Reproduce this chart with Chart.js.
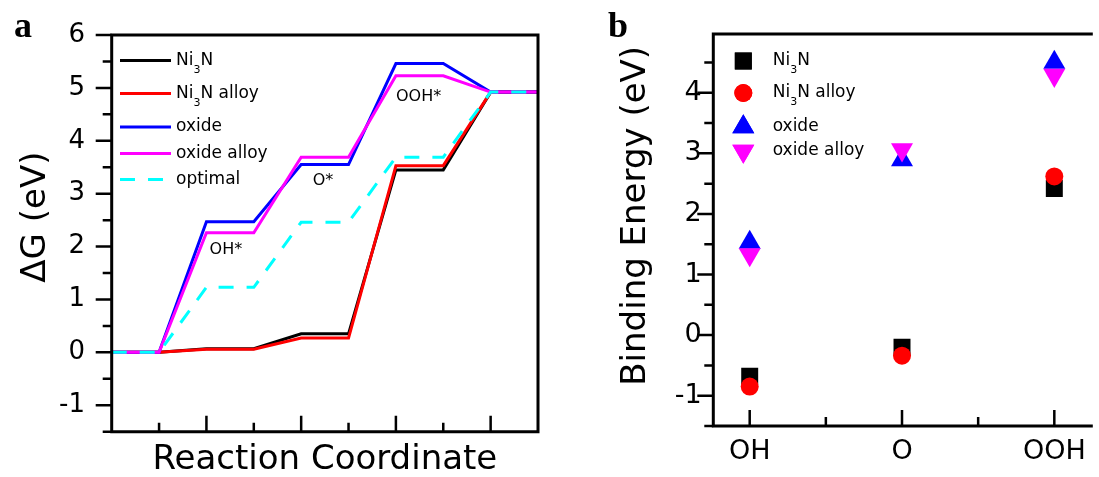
<!DOCTYPE html>
<html><head><meta charset="utf-8">
<script src="https://cdn.jsdelivr.net/npm/chart.js"></script>
<style>
html,body{margin:0;padding:0;background:#fff;overflow:hidden}
#wrap{position:relative;width:1099px;height:477px;background:#fff}
canvas{position:absolute;top:0}
#c1{left:0}
#c2{left:560px}
</style></head><body>
<div id="wrap"><canvas id="c1" width="560" height="477"></canvas><canvas id="c2" width="539" height="477"></canvas></div>
<script>
// ---------- data: panel a (free energy diagram) ----------
const stepX = [0, 1, 2, 3, 4, 5, 6, 7, 8, 9];
const seriesNames = ['Ni₃N', 'Ni₃N alloy', 'oxide', 'oxide alloy', 'optimal'];
const gNi3N       = [0, 0, 0.07, 0.07, 0.35, 0.35, 3.45, 3.45, 4.92, 4.92];
const gNi3NAlloy  = [0, 0, 0.06, 0.06, 0.27, 0.27, 3.53, 3.53, 4.92, 4.92];
const gOxide      = [0, 0, 2.47, 2.47, 3.55, 3.55, 5.46, 5.46, 4.92, 4.92];
const gOxideAlloy = [0, 0, 2.26, 2.26, 3.69, 3.69, 5.23, 5.23, 4.92, 4.92];
const gOptimal    = [0, 0, 1.23, 1.23, 2.46, 2.46, 3.69, 3.69, 4.92, 4.92];
const stepNotes = ['OH*', 'O*', 'OOH*'];

// ---------- data: panel b (binding energies) ----------
const adsorbates = ['OH', 'O', 'OOH'];
const beNi3N       = [-0.68, -0.20, 2.42];
const beNi3NAlloy  = [-0.85, -0.34, 2.62];
const beOxide      = [1.53, 2.89, 4.50];
const beOxideAlloy = [1.33, 3.06, 4.29];

const FONT = "'DejaVu Sans'";
Chart.defaults.font.family = FONT;
Chart.defaults.color = '#000';

function drawRich(ctx, text, x, y, size) {
  const parts = text.split('₃');
  ctx.textAlign = 'left';
  ctx.textBaseline = 'middle';
  parts.forEach((p, i) => {
    ctx.font = size + 'px ' + FONT;
    ctx.fillText(p, x, y);
    x += ctx.measureText(p).width;
    if (i < parts.length - 1) {
      ctx.font = Math.round(size * 0.65) + 'px ' + FONT;
      ctx.fillText('3', x, y + size * 0.56);
      x += ctx.measureText('3').width;
    }
  });
}

function drawMarker(ctx, ds, x, y) {
  ctx.fillStyle = ds.pointBackgroundColor;
  ctx.strokeStyle = ds.pointBackgroundColor;
  if (Chart.helpers && Chart.helpers.drawPoint) {
    Chart.helpers.drawPoint(ctx, {pointStyle: ds.pointStyle, radius: ds.pointRadius, rotation: ds.pointRotation || 0, borderWidth: 0}, x, y);
    ctx.fill();
  }
}

const framePlugin = {
  id: 'frame',
  afterDraw(chart, args, o) {
    const {ctx, chartArea: a} = chart;
    const xs = chart.scales.x, ys = chart.scales.y;
    ctx.save();
    ctx.strokeStyle = '#000';
    ctx.fillStyle = '#000';
    ctx.setLineDash([]);
    // ticks
    ctx.lineWidth = o.tickWidth;
    ctx.lineCap = 'butt';
    ctx.beginPath();
    for (let v = o.yFrom; v <= ys.max + 1e-9; v += o.yStep) {
      const p = ys.getPixelForValue(v);
      const major = Math.abs(v - Math.round(v)) < 1e-9;
      const len = major ? o.majorLen : o.minorLen;
      ctx.moveTo(a.left, p); ctx.lineTo(a.left - len, p);
    }
    for (let v = o.xFrom; v <= o.xTo + 1e-9; v += o.xStep) {
      const p = xs.getPixelForValue(v);
      const r = v / o.xMajorEvery;
      const major = Math.abs(r - Math.round(r)) < 1e-9;
      const len = major ? o.majorLen : o.minorLen;
      ctx.moveTo(p, a.bottom); ctx.lineTo(p, a.bottom - len);
    }
    ctx.stroke();
    // frame
    ctx.lineWidth = o.frameWidth;
    ctx.lineCap = 'square';
    ctx.lineJoin = 'miter';
    ctx.beginPath();
    if (o.closed) {
      ctx.rect(a.left, a.top, a.right - a.left, a.bottom - a.top);
    } else {
      ctx.moveTo(a.right + 5, a.top); ctx.lineTo(a.left, a.top);
      ctx.lineTo(a.left, a.bottom); ctx.lineTo(a.right + 5, a.bottom);
    }
    ctx.stroke();
    // panel letter
    ctx.font = 'bold 36px "Liberation Serif"';
    ctx.textAlign = 'left';
    ctx.textBaseline = 'alphabetic';
    ctx.fillText(o.panel.text, o.panel.x, o.panel.y);
    // notes
    (o.notes || []).forEach(n => {
      ctx.font = '16px ' + FONT;
      ctx.textAlign = 'center';
      ctx.textBaseline = 'middle';
      ctx.fillText(n.text, xs.getPixelForValue(n.x), ys.getPixelForValue(n.y));
    });
    // legend
    const L = o.legend;
    chart.data.datasets.forEach((ds, i) => {
      const y = L.rows[i];
      if (L.kind === 'line') {
        ctx.strokeStyle = ds.borderColor;
        ctx.lineWidth = ds.borderWidth;
        ctx.lineCap = 'butt';
        ctx.setLineDash(ds.borderDash || []);
        ctx.beginPath(); ctx.moveTo(L.x0, y); ctx.lineTo(L.x1, y); ctx.stroke();
        ctx.setLineDash([]);
      } else {
        drawMarker(ctx, ds, L.x0, y);
      }
      ctx.fillStyle = '#000';
      drawRich(ctx, ds.label, L.textX, y, L.size);
    });
    ctx.restore();
  }
};

function zeroPad(s) { s.paddingLeft = 0; s.paddingRight = 0; s.paddingTop = 0; s.paddingBottom = 0; }

// ---------- chart a ----------
const colorsA = ['#000000', '#ff0000', '#0000ff', '#ff00ff', '#00ffff'];
const valsA = [gNi3N, gNi3NAlloy, gOxide, gOxideAlloy, gOptimal];
new Chart(document.getElementById('c1'), {
  type: 'line',
  data: {
    datasets: valsA.map((vals, i) => ({
      label: seriesNames[i],
      data: stepX.map((x, j) => ({x: x, y: vals[j]})),
      borderColor: colorsA[i],
      backgroundColor: colorsA[i],
      borderWidth: 3,
      borderDash: i === 4 ? [15, 13] : [],
      pointRadius: 0,
      tension: 0,
      fill: false,
      order: valsA.length - i
    }))
  },
  options: {
    responsive: false, animation: false, devicePixelRatio: 1, events: [],
    layout: {padding: {left: 0, top: 35, right: 22, bottom: 0}},
    plugins: {
      legend: {display: false}, title: {display: false}, tooltip: {enabled: false},
      frame: {
        tickWidth: 2.5, frameWidth: 3, majorLen: 16, minorLen: 9, closed: true,
        yFrom: -1.5, yStep: 0.5, xFrom: 1, xTo: 8, xStep: 1, xMajorEvery: 2,
        panel: {text: 'a', x: 14, y: 37},
        notes: [{text: stepNotes[0], x: 2.41, y: 1.94}, {text: stepNotes[1], x: 4.46, y: 3.25}, {text: stepNotes[2], x: 6.48, y: 4.83}],
        legend: {kind: 'line', x0: 120, x1: 171, textX: 176, size: 17, rows: [60.5, 93.5, 127, 153.5, 179.5]}
      }
    },
    scales: {
      x: {
        type: 'linear', min: 0, max: 9,
        grid: {display: false, drawTicks: false}, border: {display: false},
        ticks: {display: false},
        title: {display: true, text: 'Reaction Coordinate', font: {size: 34, lineHeight: 1}, padding: 0, color: '#000'},
        afterFit(s) { s.height = 45.3; zeroPad(s); }
      },
      y: {
        type: 'linear', min: -1.5, max: 6,
        grid: {display: false, drawTicks: false}, border: {display: false},
        ticks: {stepSize: 1, padding: 26.7, font: {size: 26, lineHeight: 1}, color: '#000'},
        afterBuildTicks(s) { s.ticks = s.ticks.filter(t => Number.isInteger(t.value)); },
        title: {display: true, text: '   ΔG (eV)', font: {size: 34, lineHeight: 1}, padding: {top: 19, bottom: 0}, color: '#000'},
        afterFit(s) { s.width = 111.7; zeroPad(s); }
      }
    }
  },
  plugins: [framePlugin]
});

// ---------- chart b ----------
const valsB = [beNi3N, beNi3NAlloy, beOxide, beOxideAlloy];
const colorsB = ['#000000', '#ff0000', '#0000ff', '#ff00ff'];
const stylesB = [
  {pointStyle: 'rect', pointRadius: 12, pointRotation: 0},
  {pointStyle: 'circle', pointRadius: 9, pointRotation: 0},
  {pointStyle: 'triangle', pointRadius: 12.7, pointRotation: 0},
  {pointStyle: 'triangle', pointRadius: 12.7, pointRotation: 180}
];
new Chart(document.getElementById('c2'), {
  type: 'scatter',
  data: {
    datasets: valsB.map((vals, i) => Object.assign({
      label: seriesNames[i],
      data: adsorbates.map((a, j) => ({x: j + 1, y: vals[j]})),
      pointBackgroundColor: colorsB[i],
      pointBorderColor: colorsB[i],
      backgroundColor: colorsB[i],
      borderColor: colorsB[i],
      pointBorderWidth: 0,
      showLine: false,
      order: valsB.length - i
    }, stylesB[i]))
  },
  options: {
    responsive: false, animation: false, devicePixelRatio: 1, events: [],
    layout: {padding: {left: 0, top: 34, right: 0, bottom: 0}},
    plugins: {
      legend: {display: false}, title: {display: false}, tooltip: {enabled: false},
      frame: {
        tickWidth: 2.5, frameWidth: 3, majorLen: 16, minorLen: 9, closed: false,
        yFrom: -1.5, yStep: 0.5, xFrom: 1, xTo: 3, xStep: 0.5, xMajorEvery: 1,
        panel: {text: 'b', x: 48, y: 37},
        notes: [],
        legend: {kind: 'point', x0: 183.3, textX: 212.7, size: 17, rows: [61, 93, 127, 151]}
      }
    },
    scales: {
      x: {
        type: 'linear', min: 0.761, max: 3.21,
        grid: {display: false, drawTicks: false}, border: {display: false},
        ticks: {padding: 12.2, font: {size: 27, lineHeight: 1}, color: '#000', autoSkip: false, maxRotation: 0,
          callback: v => adsorbates[Math.round(v) - 1]},
        afterBuildTicks(s) { s.ticks = adsorbates.map((a, j) => ({value: j + 1})); },
        afterFit(s) { s.height = 51; zeroPad(s); }
      },
      y: {
        type: 'linear', min: -1.5, max: 4.97,
        grid: {display: false, drawTicks: false}, border: {display: false},
        ticks: {stepSize: 1, padding: 11.6, font: {size: 27, lineHeight: 1}, color: '#000'},
        afterBuildTicks(s) { s.ticks = s.ticks.filter(t => Number.isInteger(t.value)); },
        title: {display: true, text: '  \u2009Binding Energy (eV)', font: {size: 34, lineHeight: 1}, padding: {top: 59.5, bottom: 0}, color: '#000'},
        afterFit(s) { s.width = 153.3; zeroPad(s); }
      }
    }
  },
  plugins: [framePlugin]
});
</script></body></html>
